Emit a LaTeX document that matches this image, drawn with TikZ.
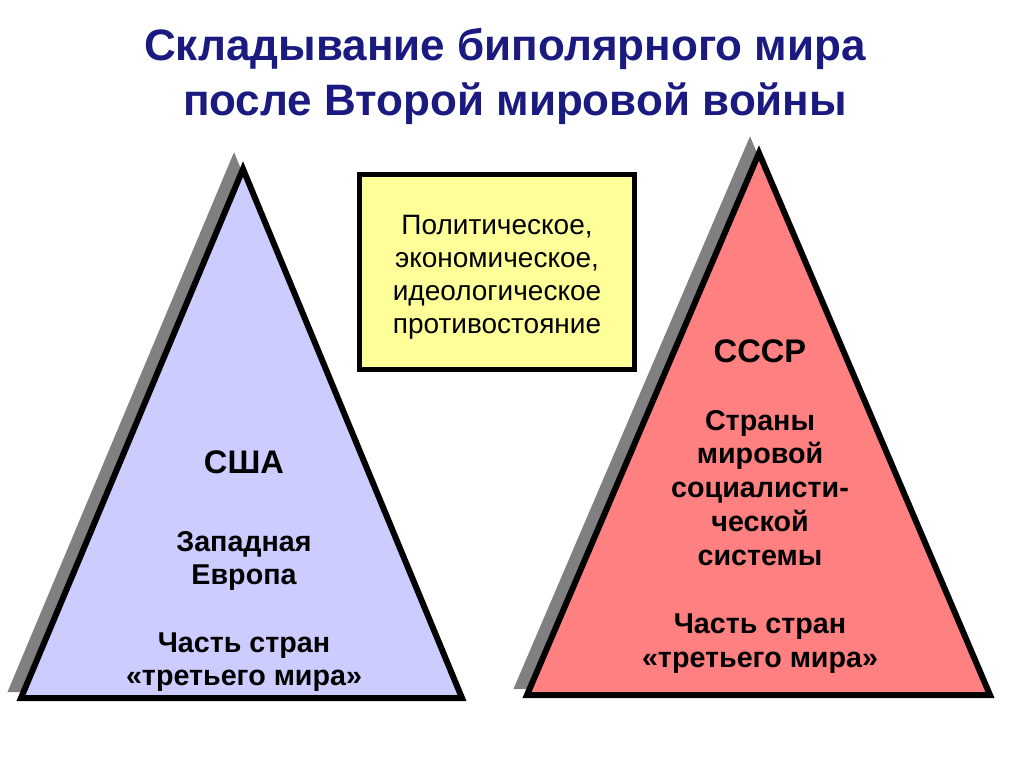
\documentclass[tikz,border=0pt]{standalone}
\usepackage{fontspec}
\setmainfont{Liberation Sans}
\definecolor{titleblue}{RGB}{26,26,128}
\definecolor{usablue}{RGB}{204,204,255}
\definecolor{ussrpink}{RGB}{255,128,128}
\definecolor{boxyellow}{RGB}{255,255,153}
\definecolor{shadowgray}{RGB}{128,128,128}
\tikzset{
  titletext/.style={font=\bfseries\fontsize{33}{41}\selectfont, text=titleblue, anchor=base, inner sep=0pt},
  tritext/.style={font=\bfseries\fontsize{21.5}{24.5}\selectfont, align=center, anchor=base, inner sep=0pt},
  tritextR/.style={font=\bfseries\fontsize{21.5}{25.3}\selectfont, align=center, anchor=base, inner sep=0pt},
  bigtext/.style={font=\bfseries\fontsize{24.5}{27}\selectfont, align=center, anchor=base, inner sep=0pt},
  boxtext/.style={font=\fontsize{21}{24.75}\selectfont, align=center, anchor=base, inner sep=0pt},
  shadowshape/.style={fill=shadowgray, draw=shadowgray, line width=4.5pt},
  trishape/.style={draw=black, line width=4.5pt, line join=miter},
}
\begin{document}
\begin{tikzpicture}[x=0.75pt,y=-0.75pt]
\useasboundingbox (0,0) rectangle (1024,767);
\fill[white] (0,0) rectangle (1024,767);

% title
\node[titletext] (title1) at (505,61) {Складывание биполярного мира};
\node[titletext] (title2) at (515,115) {после Второй мировой войны};

% left triangle (USA)
\path[shadowshape] (234,160) -- (12,689) -- (453,689) -- cycle;
\path[trishape, fill=usablue] (243,169) -- (21,698) -- (462,698) -- cycle;

% right triangle (USSR)
\path[shadowshape] (750,144) -- (518,686) -- (981,686) -- cycle;
\path[trishape, fill=ussrpink] (759,153) -- (527,695) -- (990,695) -- cycle;

% central box
\path[draw=black, line width=3.75pt, fill=boxyellow] (359.5,174.5) rectangle (634.5,369.5);
\node[boxtext] (conflict) at (497,333) {Политическое,\\экономическое,\\идеологическое\\противостояние};

% left texts
\node[bigtext] (usa) at (244,473) {США};
\node[tritext] (west) at (244,584) {Западная\\Европа};
\node[tritext] (thirdL) at (244,685) {Часть стран\\«третьего мира»};

% right texts
\node[bigtext] (ussr) at (760,362) {СССР};
\node[tritextR] (soc) at (760,565) {Страны\\мировой\\социалисти-\\ческой\\системы};
\node[tritextR] (thirdR) at (760,667) {Часть стран\\«третьего мира»};
\end{tikzpicture}
\end{document}
